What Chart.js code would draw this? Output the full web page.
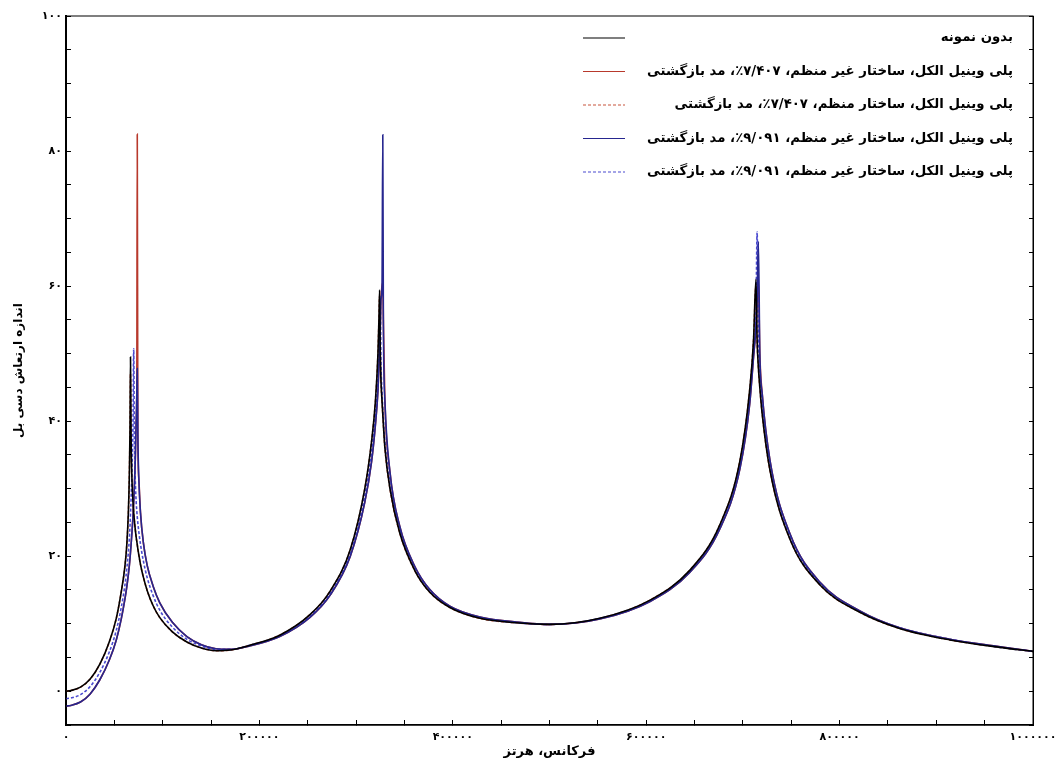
<!DOCTYPE html>
<html lang="fa">
<head>
<meta charset="utf-8">
<script src="https://cdn.jsdelivr.net/npm/chart.js@4.4.1/dist/chart.umd.min.js"></script>
<style>
  html, body { margin: 0; padding: 0; background: #fff; }
</style>
</head>
<body>
<canvas id="grafico" width="1056" height="759"></canvas>
<script>
// Datos

const frecuencias = [
  0, 5000, 15000, 25000, 35000, 45000, 52000, 57000, 61000, 63000,
  64500, 65500, 66200, 66700, 67300, 68300, 69300, 70000, 70700, 71600,
  72600, 73200, 73700, 74300, 75300, 77000, 80000, 84000, 90000, 97000,
  110000, 125000, 140000, 155000, 170000,
  190000, 221000, 252000, 273000, 294000, 309000, 316000, 320000, 322600, 323600,
  324300, 325000, 325700, 326800, 327600, 328200, 329800, 335000, 345000, 361000,
  376000, 397000, 428000, 469000, 500000,
  552000, 604000, 645000, 676000, 697000, 707000, 711000, 713500, 714700, 716000,
  717500, 720000, 728000, 749000, 780000, 821000, 862000, 914000, 966000, 1000000
];

const sinMuestra = [
  0.0, 0.1, 0.6, 1.8, 4.0, 7.4, 10.8, 14.6, 18.6, 22.0,
  26.5, 32.0, 39.0, 49.5, 38.0, 31.0, 28.0, 26.5, 25.3, 24.0,
  22.8, 22.2, 21.7, 21.1, 20.2, 18.8, 16.9, 14.9, 12.7, 10.9,
  8.8, 7.3, 6.4, 6.0, 6.1,
  6.8, 8.3, 11.3, 14.8, 21.0, 30.0, 37.0, 43.0, 50.0, 55.0,
  59.4, 50.0, 46.0, 43.0, 41.0, 39.5, 36.0, 30.0, 23.5, 17.8,
  14.7, 12.4, 10.8, 10.1, 9.9,
  10.8, 13.5, 17.9, 24.6, 34.2, 44.6, 52.0, 61.0, 52.0, 48.0,
  45.0, 41.0, 32.7, 22.4, 15.7, 11.7, 9.3, 7.6, 6.5, 5.9
];

const irregular7 = [
  -2.2, -2.1, -1.6, -0.4, 1.7, 4.7, 7.6, 10.6, 13.7, 15.6,
  17.3, 18.6, 19.7, 20.6, 21.7, 23.7, 26.0, 28.0, 30.3, 34.0,
  40.0, 44.0, 82.5, 38.0, 31.5, 26.5, 22.0, 18.6, 15.6, 13.1,
  10.2, 8.1, 6.9, 6.3, 6.2,
  6.7, 8.1, 10.9, 14.2, 20.0, 28.0, 34.0, 39.5, 44.5, 48.0,
  51.0, 54.0, 58.0, 60.0, 60.5, 55.0, 43.0, 32.5, 24.5, 18.4,
  15.1, 12.6, 11.0, 10.2, 9.9,
  10.7, 13.3, 17.6, 24.0, 33.0, 42.5, 49.5, 54.0, 58.0, 61.0,
  50.0, 44.0, 34.2, 23.2, 16.1, 11.9, 9.4, 7.7, 6.6, 5.9
];

const regular7 = [
  0.0, 0.1, 0.6, 1.8, 4.0, 7.4, 10.8, 14.6, 18.6, 22.0,
  26.5, 32.0, 39.0, 47.0, 38.0, 31.0, 28.0, 26.5, 25.3, 24.0,
  22.8, 22.2, 21.7, 21.1, 20.2, 18.8, 16.9, 14.9, 12.7, 10.9,
  8.8, 7.3, 6.4, 6.0, 6.1,
  6.8, 8.3, 11.3, 14.8, 21.0, 30.0, 37.0, 43.0, 50.0, 55.0,
  58.5, 50.0, 46.0, 43.0, 41.0, 39.5, 36.0, 30.0, 23.5, 17.8,
  14.7, 12.4, 10.8, 10.1, 9.9,
  10.8, 13.5, 17.9, 24.6, 34.2, 44.6, 52.0, 60.0, 52.0, 48.0,
  45.0, 41.0, 32.7, 22.4, 15.7, 11.7, 9.3, 7.6, 6.5, 5.9
];

const irregular9 = [
  -2.2, -2.1, -1.6, -0.4, 1.7, 4.7, 7.6, 10.6, 13.7, 15.6,
  17.3, 18.6, 19.7, 20.6, 21.7, 23.7, 26.0, 28.0, 30.3, 34.0,
  40.0, 44.0, 47.8, 38.0, 31.5, 26.5, 22.0, 18.6, 15.6, 13.1,
  10.2, 8.1, 6.9, 6.3, 6.2,
  6.7, 8.1, 10.9, 14.2, 20.0, 28.0, 34.0, 39.5, 44.5, 48.0,
  51.0, 54.0, 58.0, 60.0, 82.4, 55.0, 43.0, 32.5, 24.5, 18.4,
  15.1, 12.6, 11.0, 10.2, 9.9,
  10.7, 13.3, 17.6, 24.0, 33.0, 42.5, 49.5, 54.0, 58.0, 66.6,
  50.0, 44.0, 34.2, 23.2, 16.1, 11.9, 9.4, 7.7, 6.6, 5.9
];

const irregular9b = [
  -1.1, -1.0, -0.5, 0.7, 2.8, 5.9, 9.0, 12.3, 15.8, 18.3,
  20.6, 22.6, 24.5, 26.3, 28.5, 33.0, 40.0, 50.7, 38.0, 31.5,
  28.0, 26.7, 25.8, 24.9, 23.6, 21.8, 19.3, 16.8, 14.2, 12.0,
  9.5, 7.7, 6.7, 6.2, 6.2,
  6.8, 8.2, 11.1, 14.5, 20.5, 29.0, 35.5, 41.0, 46.0, 50.0,
  53.0, 58.4, 49.0, 44.5, 42.0, 40.5, 37.0, 30.8, 24.0, 18.1,
  14.9, 12.5, 10.9, 10.1, 9.9,
  10.8, 13.4, 17.8, 24.3, 33.6, 43.5, 50.5, 56.0, 68.0, 52.0,
  47.5, 42.5, 33.5, 22.8, 15.9, 11.8, 9.4, 7.7, 6.5, 5.9
];

const etiquetas = [
  'بدون نمونه',
  'پلی وینیل الکل، ساختار غیر منظم، ۷/۴۰۷٪، مد بازگشتی',
  'پلی وینیل الکل، ساختار منظم، ۷/۴۰۷٪، مد بازگشتی',
  'پلی وینیل الکل، ساختار غیر منظم، ۹/۰۹۱٪، مد بازگشتی',
  'پلی وینیل الکل، ساختار غیر منظم، ۹/۰۹۱٪، مد بازگشتی'
];

const tituloX = 'فرکانس، هرتز';
const tituloY = 'اندازه ارتعاش دسی بل';

// Funciones auxiliares

const fuente = '"DejaVu Sans", sans-serif';

function persa(n) {
  return String(n).replace(/\d/g, d => '۰۱۲۳۴۵۶۷۸۹'[d]);
}

function puntos(valores) {
  return frecuencias.map((f, i) => ({ x: f, y: valores[i] }));
}

function serie(label, valores, color, dash, orden) {
  return {
    label: label,
    data: puntos(valores),
    borderColor: color,
    borderWidth: 1.6,
    borderDash: dash,
    pointRadius: 0,
    cubicInterpolationMode: 'monotone',
    fill: false,
    order: orden
  };
}

// leyenda a la derecha con la muestra de linea a la izquierda
const leyenda = {
  id: 'leyenda',
  afterDraw(chart) {
    const ctx = chart.ctx;
    ctx.save();
    chart.data.datasets.forEach((ds, i) => {
      const y = 38 + i * 33.5;
      ctx.strokeStyle = ds.borderColor;
      ctx.lineWidth = 1.2;
      ctx.setLineDash(ds.borderDash);
      ctx.beginPath();
      ctx.moveTo(583, y);
      ctx.lineTo(625, y);
      ctx.stroke();
      ctx.setLineDash([]);
      ctx.fillStyle = '#000';
      ctx.font = 'bold 13.3px ' + fuente;
      ctx.direction = 'rtl';
      ctx.textAlign = 'right';
      ctx.textBaseline = 'middle';
      ctx.fillText(ds.label, 1013, y);
    });
    ctx.restore();
  }
};

const marco = {
  id: 'marco',
  afterDatasetsDraw(chart) {
    const a = chart.chartArea;
    const ctx = chart.ctx;
    ctx.save();
    ctx.strokeStyle = '#000';
    ctx.lineWidth = 1;
    ctx.strokeRect(a.left, a.top, a.right - a.left, a.bottom - a.top);
    ctx.restore();
  }
};

// Grafico

const ctx = document.getElementById('grafico').getContext('2d');

const grafico = new Chart(ctx, {
  type: 'line',
  data: {
    datasets: [
      serie(etiquetas[0], sinMuestra, '#000000', [], 0),
      serie(etiquetas[1], irregular7, '#b8392c', [], 4),
      serie(etiquetas[2], regular7, '#c8553d', [3, 2], 3),
      serie(etiquetas[3], irregular9, '#26268f', [], 1),
      serie(etiquetas[4], irregular9b, '#4a4ad0', [3, 2], 2)
    ]
  },
  options: {
    responsive: false,
    animation: false,
    layout: { padding: { top: 16, right: 0, bottom: 0, left: 0 } },
    plugins: {
      legend: { display: false },
      tooltip: { enabled: false }
    },
    scales: {
      x: {
        type: 'linear',
        min: 0,
        max: 1000000,
        ticks: {
          stepSize: 50000,
          autoSkip: false,
          maxRotation: 0,
          padding: 11,
          color: '#000',
          font: { family: fuente, size: 11, weight: 'bold' },
          callback: v => (v % 200000 === 0) ? persa(v) : ''
        },
        grid: { drawOnChartArea: false, tickLength: -5, color: '#000' },
        border: { color: '#000', width: 1.5 },
        title: {
          display: true,
          text: tituloX,
          color: '#000',
          font: { family: fuente, size: 13, weight: 'bold' },
          padding: { top: 0, bottom: 0 }
        },
        afterFit: s => { s.height = 34; s.paddingLeft = 0; s.paddingRight = 0; }
      },
      y: {
        min: -5,
        max: 100,
        ticks: {
          stepSize: 5,
          autoSkip: false,
          padding: 9,
          color: '#000',
          font: { family: fuente, size: 11, weight: 'bold' },
          callback: v => (v % 20 === 0 && v >= 0) ? persa(v) : ''
        },
        grid: { drawOnChartArea: false, tickLength: -5, color: '#000' },
        border: { color: '#000', width: 2 },
        title: {
          display: true,
          text: tituloY,
          color: '#000',
          font: { family: fuente, size: 12, weight: 'bold' },
          padding: { top: 12, bottom: 0 }
        },
        afterFit: s => { s.width = 66; }
      },
      y2: {
        position: 'right',
        min: -5,
        max: 100,
        ticks: { stepSize: 5, autoSkip: false, padding: 0, callback: () => '' },
        grid: { drawOnChartArea: false, tickLength: -4, color: '#000' },
        border: { color: '#000', width: 1 },
        afterFit: s => { s.width = 23; }
      }
    }
  },
  plugins: [leyenda, marco]
});
</script>
</body>
</html>
